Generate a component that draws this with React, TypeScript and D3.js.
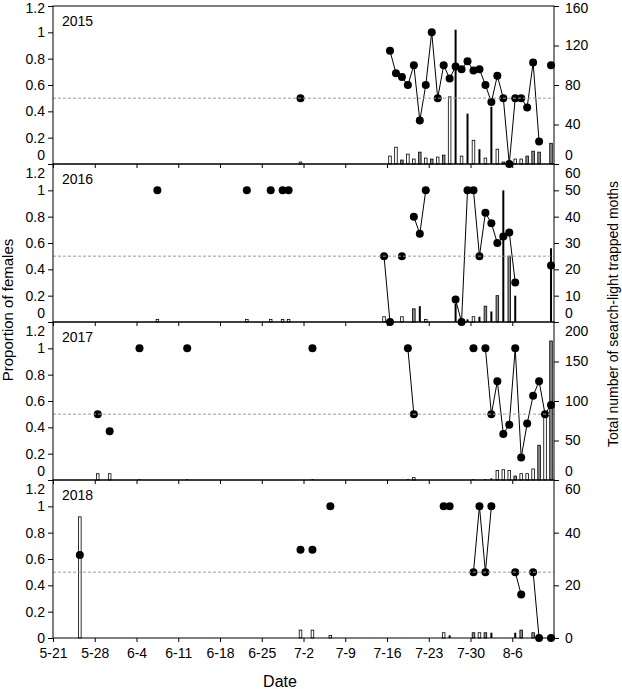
import React, { useEffect, useRef } from 'react';
import * as d3 from 'd3';

// proportion of females per night: [month-day, proportion]
const females2015: [string, number][] = [
    ['7-1', 0.5], ['7-16', 0.86], ['7-17', 0.69], ['7-18', 0.66], ['7-19', 0.6], ['7-20', 0.75],
    ['7-21', 0.33], ['7-22', 0.6], ['7-23', 1], ['7-24', 0.5], ['7-25', 0.75], ['7-26', 0.65],
    ['7-27', 0.74], ['7-28', 0.72], ['7-29', 0.78], ['7-30', 0.71], ['7-31', 0.72], ['8-1', 0.6],
    ['8-2', 0.47], ['8-3', 0.67], ['8-4', 0.5], ['8-5', 0], ['8-6', 0.5], ['8-7', 0.5],
    ['8-8', 0.43], ['8-9', 0.77], ['8-10', 0.17], ['8-12', 0.75],
];
const females2016: [string, number][] = [
    ['6-7', 1], ['6-22', 1], ['6-26', 1], ['6-28', 1], ['6-29', 1], ['7-15', 0.5], ['7-16', 0],
    ['7-18', 0.5], ['7-20', 0.8], ['7-21', 0.67], ['7-22', 1], ['7-27', 0.17], ['7-28', 0],
    ['7-29', 1], ['7-30', 1], ['7-31', 0.5], ['8-1', 0.83], ['8-2', 0.75], ['8-3', 0.6],
    ['8-4', 0.65], ['8-5', 0.68], ['8-6', 0.3], ['8-12', 0.43],
];
const females2017: [string, number][] = [
    ['5-28', 0.5], ['5-30', 0.37], ['6-4', 1], ['6-12', 1], ['7-3', 1], ['7-19', 1], ['7-20', 0.5],
    ['7-30', 1], ['8-1', 1], ['8-2', 0.5], ['8-3', 0.75], ['8-4', 0.35], ['8-5', 0.42], ['8-6', 1],
    ['8-7', 0.17], ['8-8', 0.43], ['8-9', 0.64], ['8-10', 0.75], ['8-11', 0.5], ['8-12', 0.57],
];
const females2018: [string, number][] = [
    ['5-25', 0.63], ['7-1', 0.67], ['7-3', 0.67], ['7-6', 1], ['7-25', 1], ['7-26', 1],
    ['7-30', 0.5], ['7-31', 1], ['8-1', 0.5], ['8-2', 1], ['8-6', 0.5], ['8-7', 0.33],
    ['8-9', 0.5], ['8-10', 0], ['8-12', 0],
];

// trapped moths: [month-day, count, kind]  (w = open bar, g = grey bar, k = black bar)
const moths2015: [string, number, string][] = [
    ['7-1', 2, 'w'], ['7-16', 8, 'w'], ['7-17', 17, 'w'], ['7-18', 4, 'g'], ['7-19', 10, 'w'],
    ['7-20', 5, 'w'], ['7-21', 12, 'g'], ['7-22', 6, 'w'], ['7-23', 5, 'g'], ['7-24', 7, 'w'],
    ['7-25', 9, 'g'], ['7-26', 68, 'w'], ['7-27', 136, 'k'], ['7-28', 8, 'w'], ['7-29', 51, 'k'],
    ['7-30', 24, 'w'], ['7-31', 15, 'k'], ['8-1', 6, 'w'], ['8-2', 58, 'k'], ['8-3', 15, 'w'],
    ['8-4', 2, 'g'], ['8-6', 5, 'w'], ['8-7', 5, 'w'], ['8-8', 8, 'g'], ['8-9', 13, 'g'],
    ['8-10', 12, 'g'], ['8-12', 21, 'g'],
];
const moths2016: [string, number, string][] = [
    ['6-7', 1, 'w'], ['6-22', 1, 'w'], ['6-26', 1, 'w'], ['6-28', 1, 'w'], ['6-29', 1, 'w'],
    ['7-15', 2, 'w'], ['7-16', 1, 'w'], ['7-18', 2, 'w'], ['7-20', 5, 'g'], ['7-21', 6, 'k'],
    ['7-22', 1, 'w'], ['7-27', 7, 'k'], ['7-28', 1, 'w'], ['7-29', 1, 'k'], ['7-30', 2, 'w'],
    ['7-31', 2, 'k'], ['8-1', 6, 'g'], ['8-2', 4, 'k'], ['8-3', 10, 'g'], ['8-4', 50, 'k'],
    ['8-5', 25, 'g'], ['8-6', 10, 'k'], ['8-12', 28, 'k'],
];
const moths2017: [string, number, string][] = [
    ['5-28', 8, 'w'], ['5-30', 8, 'w'], ['6-4', 1, 'k'], ['6-12', 1, 'k'], ['7-3', 1, 'k'],
    ['7-19', 1, 'k'], ['7-20', 3, 'w'], ['7-30', 1, 'k'], ['8-1', 1, 'k'], ['8-2', 2, 'k'],
    ['8-3', 12, 'w'], ['8-4', 13, 'w'], ['8-5', 12, 'w'], ['8-6', 5, 'g'], ['8-7', 8, 'w'],
    ['8-8', 8, 'w'], ['8-9', 14, 'w'], ['8-10', 44, 'g'], ['8-11', 85, 'w'], ['8-12', 176, 'g'],
];
const moths2018: [string, number, string][] = [
    ['5-25', 46, 'w'], ['7-1', 3, 'w'], ['7-3', 3, 'w'], ['7-6', 1, 'w'], ['7-25', 2, 'w'],
    ['7-26', 1, 'k'], ['7-30', 2, 'g'], ['7-31', 2, 'w'], ['8-1', 2, 'g'], ['8-2', 2, 'k'],
    ['8-6', 2, 'k'], ['8-7', 3, 'g'], ['8-9', 2, 'g'],
];

const years = ['2015', '2016', '2017', '2018'];
const femaleSeries = [females2015, females2016, females2017, females2018];
const mothSeries = [moths2015, moths2016, moths2017, moths2018];
const countMax = [160, 60, 200, 60];
const countStep = [40, 10, 50, 20];
const propTicks = [0, 0.2, 0.4, 0.6, 0.8, 1, 1.2];
const dateTicks = ['5-21', '5-28', '6-4', '6-11', '6-18', '6-25', '7-2', '7-9', '7-16', '7-23', '7-30', '8-6'];

const FONT = 'Arial, "Liberation Sans", sans-serif';

const toDate = (s: string, noon = false) => {
    const [m, d] = s.split('-').map(Number);
    return new Date(2000, m - 1, d, noon ? 12 : 0);
};

export default function App() {
    const svgRef = useRef<SVGSVGElement>(null);

    useEffect(() => {
        if (!svgRef.current) return;
        const svg = d3.select(svgRef.current);
        svg.selectAll('*').remove();

        const left = 53, right = 554, top = 6, ph = 158;

        const x = d3.scaleTime()
            .domain([toDate('5-21'), toDate('8-13')])
            .range([left, right]);

        years.forEach((year, i) => {
            const y0 = top + i * ph, y1 = y0 + ph;
            const yL = d3.scaleLinear().domain([0, 1.2]).range([y1, y0]);
            const yR = d3.scaleLinear().domain([0, countMax[i]]).range([y1, y0]);
            const g = svg.append('g');

            // bars (right axis)
            g.selectAll('rect.bar')
                .data(mothSeries[i])
                .join('rect')
                .attr('class', 'bar')
                .attr('x', d => x(toDate(d[0], true)) - (d[2] === 'k' ? 1 : 1.3))
                .attr('width', d => (d[2] === 'k' ? 2 : 2.6))
                .attr('y', d => yR(d[1]))
                .attr('height', d => y1 - yR(d[1]))
                .attr('fill', d => (d[2] === 'k' ? '#000' : d[2] === 'g' ? '#8a8a8a' : '#fff'))
                .attr('stroke', d => (d[2] === 'k' ? 'none' : '#000'))
                .attr('stroke-width', 0.8);

            // line segments between consecutive nights
            const pts = femaleSeries[i];
            const segs: [string, number][][] = [];
            let cur: [string, number][] = [];
            pts.forEach((p, j) => {
                if (j > 0 && (toDate(p[0]).getTime() - toDate(pts[j - 1][0]).getTime()) / 864e5 > 1.5) {
                    segs.push(cur);
                    cur = [];
                }
                cur.push(p);
            });
            segs.push(cur);

            const line = d3.line<[string, number]>()
                .x(d => x(toDate(d[0], true)))
                .y(d => yL(d[1]));

            g.selectAll('path.seg')
                .data(segs.filter(s => s.length > 1))
                .join('path')
                .attr('class', 'seg')
                .attr('d', d => line(d))
                .attr('fill', 'none')
                .attr('stroke', '#000')
                .attr('stroke-width', 1);

            g.selectAll('circle')
                .data(pts)
                .join('circle')
                .attr('cx', d => x(toDate(d[0], true)))
                .attr('cy', d => yL(d[1]))
                .attr('r', 4)
                .attr('fill', '#000');

            // 0.5 reference line
            g.append('line')
                .attr('x1', left).attr('x2', right)
                .attr('y1', yL(0.5)).attr('y2', yL(0.5))
                .attr('stroke', '#9a9a9a')
                .attr('stroke-width', 1)
                .attr('stroke-dasharray', '3,2');

            // panel frame
            g.append('rect')
                .attr('x', left).attr('y', y0)
                .attr('width', right - left).attr('height', ph)
                .attr('fill', 'none')
                .attr('stroke', '#000')
                .attr('stroke-width', 1);

            // keep the 0 of one panel clear of the top label of the next
            const shiftLabels = (ax: d3.Selection<SVGGElement, unknown, null, undefined>, maxV: number) => {
                ax.selectAll<SVGTextElement, number>('.tick text')
                    .attr('transform', d => {
                        if (d === maxV) return i > 0 ? 'translate(0,9)' : 'translate(0,2)';
                        if (d === 0 && i < 3) return 'translate(0,-9)';
                        return null;
                    });
            };

            // left axis
            const axL = g.append('g')
                .attr('transform', `translate(${left},0)`)
                .call(d3.axisLeft(yL).tickValues(propTicks).tickSize(5).tickPadding(3)
                    .tickSizeOuter(0).tickFormat(d => String(d)));
            axL.attr('font-size', 14).attr('font-family', FONT);
            axL.select('.domain').remove();
            shiftLabels(axL, 1.2);

            // right axis
            const axR = g.append('g')
                .attr('transform', `translate(${right},0)`)
                .call(d3.axisRight(yR).tickValues(d3.range(0, countMax[i] + 1, countStep[i]))
                    .tickSize(5).tickPadding(6).tickSizeOuter(0));
            axR.attr('font-size', 14).attr('font-family', FONT);
            axR.select('.domain').remove();
            shiftLabels(axR, countMax[i]);

            // bottom axis
            const axB = g.append('g')
                .attr('transform', `translate(0,${y1})`)
                .call(d3.axisBottom(x).tickValues(dateTicks.map(s => toDate(s)))
                    .tickSize(4).tickPadding(6).tickSizeOuter(0)
                    .tickFormat(d => (i === 3 ? `${(d as Date).getMonth() + 1}-${(d as Date).getDate()}` : '')));
            axB.attr('font-size', 14).attr('font-family', FONT);
            axB.select('.domain').remove();

            g.append('text')
                .attr('x', 62)
                .attr('y', y0 + 20)
                .attr('font-size', 14)
                .attr('font-family', FONT)
                .text(year);
        });

        svg.append('text')
            .attr('transform', 'translate(13,310) rotate(-90)')
            .attr('text-anchor', 'middle')
            .attr('font-size', 15)
            .attr('font-family', FONT)
            .text('Proportion of females');

        svg.append('text')
            .attr('transform', 'translate(618,314) rotate(-90)')
            .attr('text-anchor', 'middle')
            .attr('font-size', 14)
            .attr('font-family', FONT)
            .text('Total number of search-light trapped moths');

        svg.append('text')
            .attr('x', 280)
            .attr('y', 687)
            .attr('text-anchor', 'middle')
            .attr('font-size', 16)
            .attr('font-family', FONT)
            .text('Date');
    }, []);

    return (
        <svg
            ref={svgRef}
            width={622}
            height={689}
            style={{ position: 'absolute', left: 0, top: 0, background: '#fff' }}
        />
    );
}
